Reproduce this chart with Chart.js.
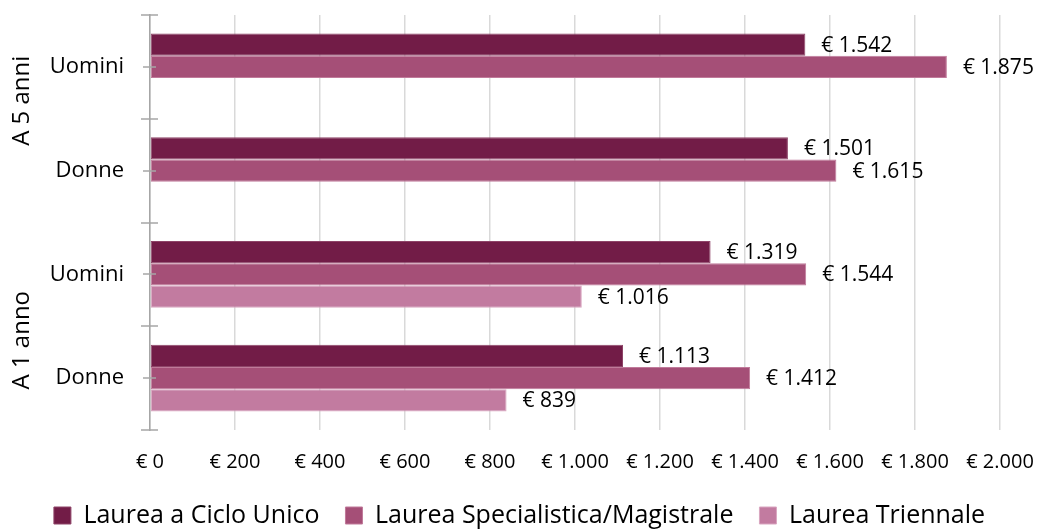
<!DOCTYPE html>
<html>
<head>
<meta charset="utf-8">
<script src="https://cdn.jsdelivr.net/npm/chart.js@4/dist/chart.umd.min.js"></script>
<style>
  html, body { margin: 0; padding: 0; background: #fff; }
  #wrap { width: 1039px; height: 529px; }
</style>
</head>
<body>
<div id="wrap"><canvas id="barChart"></canvas></div>
<script>
// categories (top to bottom) and the group they belong to
var categories = ['Uomini', 'Donne', 'Uomini', 'Donne']
var groups = [
  { label: 'A 5 anni', from: 0, to: 1 },
  { label: 'A 1 anno', from: 2, to: 3 },
]

// series values (€)
var cicloUnico = [1542, 1501, 1319, 1113]
var specialistica = [1875, 1615, 1544, 1412]
var triennale = [null, null, 1016, 839]

var xTicks = [0, 200, 400, 600, 800, 1000, 1200, 1400, 1600, 1800, 2000]

var FONT = "'Open Sans', 'DejaVu Sans', sans-serif"

function euro(v) {
  return '€ ' + v.toString().replace(/\B(?=(\d{3})+(?!\d))/g, '.')
}

// value labels to the right of each bar
var valueLabels = {
  id: 'valueLabels',
  afterDatasetsDraw: function (chart) {
    var ctx = chart.ctx
    ctx.save()
    ctx.font = '21px ' + FONT
    ctx.fillStyle = '#000'
    ctx.textAlign = 'left'
    ctx.textBaseline = 'middle'
    chart.data.datasets.forEach(function (ds, i) {
      var meta = chart.getDatasetMeta(i)
      meta.data.forEach(function (bar, j) {
        var v = ds.data[j]
        if (v == null) return
        ctx.fillText(euro(v), bar.x + 16, bar.y + 1)
      })
    })
    ctx.restore()
  }
}

// tick marks on the category axis + rotated group labels
var categoryAxis = {
  id: 'categoryAxis',
  afterDraw: function (chart, args, opts) {
    var ctx = chart.ctx
    var y = chart.scales.y
    var x0 = chart.chartArea.left
    ctx.save()
    ctx.strokeStyle = '#a6a6a6'
    ctx.lineWidth = 1.5
    ctx.beginPath()
    for (var i = 0; i <= categories.length; i++) {
      var py = Math.round(y.getPixelForValue(i - 0.5))
      ctx.moveTo(x0 - 9, py); ctx.lineTo(x0 + 8, py)
    }
    for (var k = 0; k < categories.length; k++) {
      var cy = Math.round(y.getPixelForValue(k))
      ctx.moveTo(x0 - 7, cy); ctx.lineTo(x0 + 6, cy)
    }
    ctx.stroke()

    ctx.font = '24px ' + FONT
    ctx.fillStyle = '#000'
    ctx.textAlign = 'center'
    ctx.textBaseline = 'middle'
    groups.forEach(function (g, n) {
      var top = y.getPixelForValue(g.from - 0.5)
      var bottom = y.getPixelForValue(g.to + 0.5)
      ctx.save()
      ctx.translate(22, (top + bottom) / 2 + opts.shift[n])
      ctx.rotate(-Math.PI / 2)
      ctx.fillText(g.label, 0, 0)
      ctx.restore()
    })
    ctx.restore()
  }
}

var barChartCanvas = document.getElementById('barChart').getContext('2d')
var barChart = new Chart(barChartCanvas, {
  type: 'bar',
  data: {
    labels: categories,
    datasets: [
      {
        label: 'Laurea a Ciclo Unico',
        data: cicloUnico,
        backgroundColor: '#721c47',
        borderColor: '#8e4468',
      },
      {
        label: 'Laurea Specialistica/Magistrale',
        data: specialistica,
        backgroundColor: '#a54f77',
        borderColor: '#c07a9a',
      },
      {
        label: 'Laurea Triennale',
        data: triennale,
        backgroundColor: '#c27ba0',
        borderColor: '#d9a6c0',
      },
    ],
  },
  options: {
    indexAxis: 'y',
    responsive: true,
    maintainAspectRatio: false,
    animation: false,
    datasets: {
      bar: {
        borderWidth: 1,
        borderSkipped: false,
        barPercentage: 1,
        categoryPercentage: 0.645,
      }
    },
    layout: { padding: { top: 15, right: 0, bottom: 0, left: 0 } },
    scales: {
      x: {
        min: 0,
        max: 2000,
        afterBuildTicks: function (scale) {
          scale.ticks = xTicks.map(function (v) { return { value: v } })
        },
        afterFit: function (scale) {
          scale.paddingRight = 39
          scale.height = 47
        },
        grid: { color: '#d9d9d9', lineWidth: 1.5, drawTicks: false },
        border: { display: false },
        ticks: {
          padding: 20,
          color: '#000',
          font: { family: FONT, size: 20 },
          maxRotation: 0,
          autoSkip: false,
          callback: function (v) { return euro(v) }
        }
      },
      y: {
        grid: { display: false },
        border: { display: true, color: '#a6a6a6', width: 1.5 },
        afterFit: function (scale) {
          scale.width = 150
          scale.paddingTop = 0
          scale.paddingBottom = 0
        },
        ticks: {
          padding: 18,
          color: '#000',
          font: { family: FONT, size: 22 },
        }
      }
    },
    plugins: {
      legend: {
        position: 'bottom',
        maxHeight: 52,
        labels: {
          color: '#000',
          font: { family: FONT, size: 25 },
          boxWidth: 17,
          boxHeight: 17,
          padding: 26,
          useBorderRadius: false,
        }
      },
      tooltip: { enabled: false },
      categoryAxis: { shift: [-18, 14] },
    }
  },
  plugins: [valueLabels, categoryAxis],
})
</script>
</body>
</html>
